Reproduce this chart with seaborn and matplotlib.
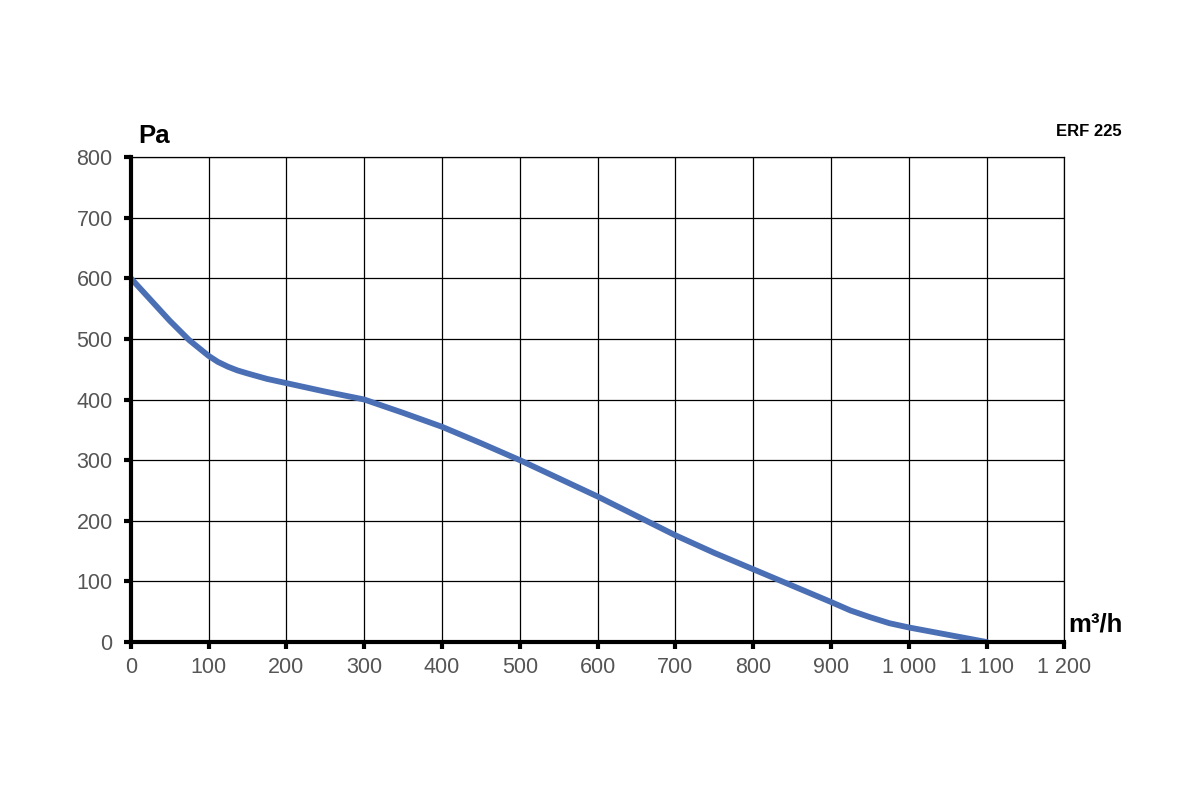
import matplotlib
matplotlib.use("Agg")
import matplotlib.pyplot as plt
import seaborn as sns
import pandas as pd

flow = [0, 25, 50, 75, 100, 112, 125, 137, 150, 175, 200, 250, 300, 350, 400, 450, 500, 550, 600, 650, 700, 750, 800, 850, 900, 925, 950, 975, 1000, 1050, 1100]
pressure = [600, 565, 530, 498, 472, 462, 454, 448, 443, 434, 427, 413, 400, 378, 355, 328, 300, 270, 240, 208, 176, 147, 120, 93, 66, 52, 41, 31, 24, 12, 0]
x_ticks = [0, 100, 200, 300, 400, 500, 600, 700, 800, 900, 1000, 1100, 1200]
x_labels = ["0", "100", "200", "300", "400", "500", "600", "700", "800", "900", "1 000", "1 100", "1 200"]
y_ticks = [0, 100, 200, 300, 400, 500, 600, 700, 800]

sns.set_theme(style="white")
plt.rcParams['font.family'] = ['Liberation Sans', 'DejaVu Sans']

df = pd.DataFrame({"flow": flow, "pressure": pressure})

fig = plt.figure(figsize=(12, 8), dpi=100)
ax = fig.add_axes([0.109, 0.1975, 0.778, 0.60625])

sns.lineplot(data=df, x="flow", y="pressure", ax=ax, color="#4a6fb5", linewidth=4.2,
             solid_capstyle="round", solid_joinstyle="round", zorder=3)

ax.set_xlim(0, 1200)
ax.set_ylim(0, 800)
ax.set_xticks(x_ticks)
ax.set_xticklabels(x_labels)
ax.set_yticks(y_ticks)
ax.set_xlabel("")
ax.set_ylabel("")

ax.grid(True, color="black", linewidth=0.9)
for s in ["top", "right"]:
    ax.spines[s].set_visible(True)
    ax.spines[s].set_color("black")
    ax.spines[s].set_linewidth(0.9)
for s in ["left", "bottom"]:
    ax.spines[s].set_color("black")
    ax.spines[s].set_linewidth(3)
    ax.spines[s].set_zorder(4)

ax.tick_params(axis="both", which="major", direction="out", length=5, width=3,
               color="black", labelsize=15.5, labelcolor="#555555", pad=8,
               left=True, bottom=True)
ax.tick_params(axis="x", pad=6)

fig.text(138/1200, 1 - 136/800, "Pa", fontsize=18.5, fontweight="bold", color="black",
         ha="left", va="center")
fig.text(1068/1200, 1 - 625/800, "m³/h", fontsize=18.5, fontweight="bold", color="black",
         ha="left", va="center")
fig.text(1122/1200, 1 - 131/800, "ERF 225", fontsize=12, fontweight="bold", color="black",
         ha="right", va="center")

fig.savefig("out.png", dpi=100, facecolor="white")
